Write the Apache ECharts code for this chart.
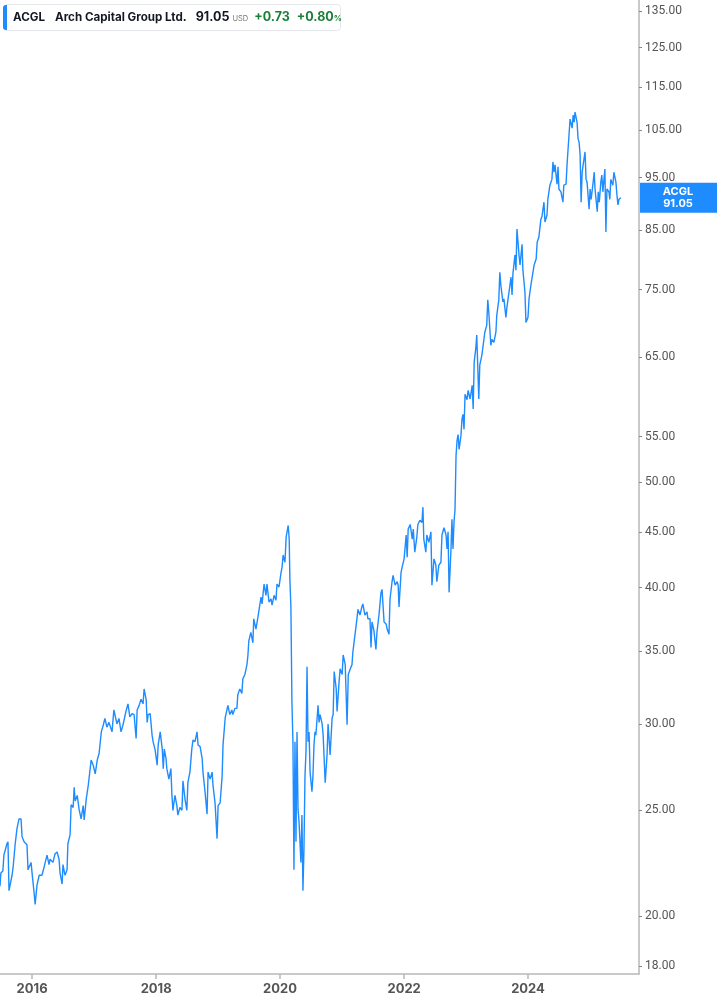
<!DOCTYPE html>
<html><head><meta charset="utf-8">
<script src="https://cdn.jsdelivr.net/npm/echarts@6/dist/echarts.min.js"></script>
<style>html,body{margin:0;padding:0;background:#fff}#c{width:717px;height:1005px}</style>
</head><body><div id="c"></div>
<script>
const dates = [
'2015-06-26','2015-07-01','2015-07-13','2015-07-19','2015-07-30','2015-08-06','2015-08-12','2015-08-18','2015-09-05','2015-09-11',
'2015-09-23','2015-10-04','2015-10-16','2015-10-28','2015-11-03','2015-11-15','2015-12-02','2015-12-08','2015-12-26',
'2016-01-01','2016-01-13','2016-01-19','2016-01-30','2016-02-12','2016-02-28','2016-03-11','2016-03-29','2016-04-10','2016-04-16',
'2016-05-03','2016-05-15','2016-05-27','2016-06-08','2016-06-14','2016-06-26','2016-07-01','2016-07-13','2016-07-25','2016-07-30',
'2016-08-12','2016-08-18','2016-08-30','2016-09-05','2016-09-11','2016-09-23','2016-10-04','2016-10-16','2016-10-28','2016-11-03',
'2016-11-15','2016-11-27','2016-12-14','2016-12-26',
'2017-01-07','2017-01-19','2017-01-30','2017-02-12','2017-02-24','2017-03-05','2017-03-17','2017-03-29','2017-04-16','2017-04-27',
'2017-05-15','2017-05-27','2017-06-08','2017-06-20','2017-07-07','2017-07-19','2017-07-30','2017-08-12','2017-08-24','2017-09-05',
'2017-09-11','2017-09-23','2017-10-04','2017-10-16','2017-10-22','2017-11-03','2017-11-09','2017-11-15','2017-11-27','2017-12-08',
'2017-12-14','2017-12-26',
'2018-01-07','2018-01-13','2018-01-25','2018-02-06','2018-02-12','2018-02-18','2018-02-28','2018-03-05','2018-03-17','2018-03-29',
'2018-04-04','2018-04-10','2018-04-22','2018-05-03','2018-05-09','2018-05-21','2018-06-02','2018-06-08','2018-06-20','2018-07-01',
'2018-07-07','2018-07-19','2018-07-30','2018-08-06','2018-08-18','2018-08-30','2018-09-05','2018-09-17','2018-09-29','2018-10-04',
'2018-10-16','2018-10-28','2018-11-03','2018-11-15','2018-11-27','2018-12-02','2018-12-14','2018-12-26',
'2019-01-01','2019-01-13','2019-01-25','2019-01-30','2019-02-12','2019-02-24','2019-02-28','2019-03-11','2019-03-23','2019-03-29',
'2019-04-10','2019-04-22','2019-04-27','2019-05-09','2019-05-21','2019-05-27','2019-06-08','2019-06-20','2019-06-26','2019-07-01',
'2019-07-13','2019-07-25','2019-07-30','2019-08-12','2019-08-24','2019-08-30','2019-09-11','2019-09-17','2019-09-29','2019-10-10',
'2019-10-16','2019-10-28','2019-11-09','2019-11-15','2019-11-27','2019-12-08','2019-12-14','2019-12-26',
'2020-01-07','2020-01-13','2020-01-19','2020-01-30','2020-02-06','2020-02-18','2020-02-24','2020-02-28','2020-03-05','2020-03-11',
'2020-03-17','2020-03-23','2020-03-29','2020-04-04','2020-04-10','2020-04-16','2020-04-22','2020-05-03','2020-05-09','2020-05-15',
'2020-05-21','2020-05-27','2020-06-02','2020-06-08','2020-06-14','2020-06-20','2020-06-26','2020-07-07','2020-07-13','2020-07-19',
'2020-07-25','2020-07-30','2020-08-12','2020-08-18','2020-08-24','2020-09-05','2020-09-11','2020-09-23','2020-10-04','2020-10-10',
'2020-10-22','2020-11-03','2020-11-09','2020-11-15','2020-11-27','2020-12-02','2020-12-14','2020-12-20',
'2021-01-01','2021-01-07','2021-01-19','2021-01-30','2021-02-06','2021-02-18','2021-02-28','2021-03-05','2021-03-17','2021-03-29',
'2021-04-04','2021-04-16','2021-04-27','2021-05-03','2021-05-15','2021-05-27','2021-06-02','2021-06-14','2021-06-20','2021-06-26',
'2021-07-07','2021-07-19','2021-07-25','2021-08-06','2021-08-18','2021-08-24','2021-09-05','2021-09-17','2021-09-23','2021-10-04',
'2021-10-10','2021-10-22','2021-10-28','2021-11-09','2021-11-21','2021-11-27','2021-12-02','2021-12-14','2021-12-20',
'2022-01-01','2022-01-13','2022-01-19','2022-01-25','2022-02-06','2022-02-18','2022-02-24','2022-03-05','2022-03-17','2022-03-23',
'2022-04-04','2022-04-16','2022-04-22','2022-04-27','2022-05-09','2022-05-15','2022-05-27','2022-06-08','2022-06-14','2022-06-26',
'2022-07-07','2022-07-13','2022-07-25','2022-08-06','2022-08-12','2022-08-24','2022-09-05','2022-09-11','2022-09-17','2022-09-23',
'2022-10-04','2022-10-10','2022-10-16','2022-10-22','2022-10-28','2022-11-03','2022-11-09','2022-11-15','2022-11-21','2022-12-02',
'2022-12-08','2022-12-14','2022-12-20','2022-12-26',
'2023-01-07','2023-01-13','2023-01-25','2023-02-06','2023-02-12','2023-02-18','2023-02-28','2023-03-05','2023-03-17','2023-03-23',
'2023-04-04','2023-04-10','2023-04-22','2023-05-03','2023-05-09','2023-05-15','2023-05-27','2023-06-02','2023-06-14','2023-06-26',
'2023-07-01','2023-07-13','2023-07-19','2023-07-25','2023-08-06','2023-08-12','2023-08-24','2023-08-30','2023-09-11','2023-09-23',
'2023-09-29','2023-10-04','2023-10-16','2023-10-22','2023-10-28','2023-11-09','2023-11-15','2023-11-27','2023-12-02','2023-12-14',
'2023-12-20',
'2024-01-01','2024-01-07','2024-01-19','2024-01-30','2024-02-06','2024-02-18','2024-02-24','2024-03-05','2024-03-17','2024-03-23',
'2024-04-04','2024-04-10','2024-04-22','2024-04-27','2024-05-09','2024-05-21','2024-05-27','2024-06-02','2024-06-08','2024-06-20',
'2024-06-26','2024-07-01','2024-07-13','2024-07-25','2024-07-30','2024-08-12','2024-08-18','2024-08-30','2024-09-05','2024-09-17',
'2024-09-23','2024-09-29','2024-10-04','2024-10-16','2024-10-22','2024-10-28','2024-11-03','2024-11-09','2024-11-15','2024-11-21',
'2024-12-02','2024-12-08','2024-12-14','2024-12-26',
'2025-01-01','2025-01-07','2025-01-19','2025-01-25','2025-01-30','2025-02-12','2025-02-18','2025-02-24','2025-03-05','2025-03-11',
'2025-03-17','2025-03-29','2025-04-04','2025-04-10','2025-04-22','2025-04-27','2025-05-03','2025-05-15','2025-05-21','2025-06-02',
'2025-06-08','2025-06-14','2025-06-20','2025-07-01'
];
const prices = [
21.3,21.9,22.0,22.75,22.8,23.3,23.4,21.1,21.8,22.15,
23.25,24.05,24.55,24.55,23.65,23.4,23.25,22.05,22.4,
21.9,21.0,20.5,21.35,21.8,21.8,22.15,22.75,22.3,22.55,
22.4,22.8,22.9,22.55,21.9,21.4,22.3,21.8,22.05,23.3,
23.75,25.3,25.15,26.25,25.5,25.8,25.05,24.55,25.25,24.5,
25.6,26.35,27.8,27.5,
27.0,27.8,28.2,29.5,29.95,30.35,29.8,30.1,29.5,30.9,
30.0,30.35,29.5,29.95,30.8,31.3,30.45,30.65,30.6,29.1,
30.9,31.2,31.6,31.3,32.3,31.6,30.1,30.6,30.65,29.3,
28.9,28.4,
27.5,28.7,29.5,28.45,27.3,28.45,27.9,27.3,26.7,27.3,
25.8,25.0,25.8,25.25,24.75,25.15,25.0,26.6,25.6,25.0,
26.5,27.1,28.45,29.0,28.9,29.5,28.7,28.6,27.9,27.1,
26.0,24.8,27.1,26.7,27.1,26.35,25.4,23.55,
25.25,25.4,26.9,28.7,30.4,31.0,31.2,30.6,30.9,30.6,
31.0,31.0,31.9,32.3,32.0,33.0,33.3,34.0,34.7,35.75,
36.4,35.6,37.45,36.65,37.6,38.15,39.2,38.65,40.3,39.35,
40.3,38.8,39.05,38.55,39.35,38.95,40.3,40.05,
41.3,41.75,42.85,42.2,44.5,45.6,44.3,40.7,38.4,31.4,
28.9,22.05,28.9,23.4,29.5,25.05,24.4,22.4,24.75,21.1,
23.05,26.9,28.3,33.85,28.9,29.5,27.1,26.0,26.9,28.7,
29.5,29.3,31.2,30.1,30.6,30.0,29.3,26.5,28.1,30.0,
28.1,30.4,30.6,33.5,32.3,30.8,32.8,33.7,
33.3,34.7,34.0,29.95,33.3,33.7,34.0,34.9,36.15,37.45,
38.2,37.75,38.4,38.65,37.75,38.0,37.45,37.45,35.25,37.2,
36.55,35.1,36.4,37.75,39.6,39.85,37.2,37.05,36.65,36.25,
39.05,40.5,41.05,40.2,40.5,40.2,38.4,41.3,41.75,
42.5,44.7,42.65,45.25,45.7,44.3,45.25,43.1,44.5,45.7,
46.1,45.9,47.4,44.3,43.1,44.7,44.0,45.0,40.2,42.5,
41.95,40.5,41.95,42.2,44.7,45.4,44.7,43.4,45.0,39.6,
43.3,46.2,43.4,45.9,47.2,52.85,54.55,55.25,53.55,55.15,
57.05,57.65,55.85,60.15,
59.45,60.65,59.55,61.3,58.3,64.4,66.4,68.15,59.55,64.0,
65.3,65.45,68.6,69.6,73.4,71.5,66.7,67.55,67.1,68.6,
71.05,73.4,77.8,75.7,73.1,73.55,70.75,72.3,74.6,77.0,
74.15,77.5,80.7,78.15,85.25,80.7,79.0,82.55,78.15,74.6,
70.0,
70.75,73.55,75.9,76.2,79.0,80.0,82.9,83.8,87.05,87.45,
90.2,86.5,87.8,90.75,93.5,94.65,98.2,96.1,97.6,93.7,
97.2,92.75,92.2,90.2,93.5,93.7,97.6,104.15,107.5,105.45,
108.4,106.8,109.1,106.8,103.1,102.4,99.7,90.2,96.1,97.6,
100.3,94.7,94.1,88.9,
92.75,90.75,94.1,96.1,92.75,88.4,92.2,90.2,94.1,95.5,
92.2,96.75,84.7,92.75,92.2,90.75,94.65,93.5,96.1,94.1,
91.6,89.7,90.75,91.05
];
const yTicks = [18,20,25,30,35,40,45,50,55,65,75,85,95,105,115,125,135];
const xTicks = ['2016-01-01','2018-01-01','2020-01-01','2022-01-01','2024-01-01'];
const xRange = ['2015-06-26','2025-10-16'];
const yRange = [17.70, 138.2];
const quote = {symbol:'ACGL', name:'Arch Capital Group Ltd.', last:'91.05', currency:'USD', change:'+0.73', pct:'+0.80'};

const BLUE = '#1e8cff', GREEN = '#1a7f37', AXIS = '#b8b8b8', LBL = '#555';
const chart = echarts.init(document.getElementById('c'), null, {renderer:'canvas'});
const ts = s => new Date(s + 'T00:00:00Z').getTime();

chart.setOption({
  animation:false,
  grid:{left:0, right:78, top:0, bottom:31, containLabel:false},
  xAxis:{
    type:'value', min:ts(xRange[0]), max:ts(xRange[1]), scale:true,
    axisLine:{show:true, lineStyle:{color:AXIS, width:1.5}},
    axisTick:{show:true, length:5, lineStyle:{color:AXIS, width:1.5}, customValues:xTicks.map(ts)},
    axisLabel:{customValues:xTicks.map(ts), color:LBL, fontFamily:'Inter', fontWeight:'bold', fontSize:13, margin:9,
      formatter:v=>String(new Date(v).getUTCFullYear())},
    splitLine:{show:false}
  },
  yAxis:{
    type:'log', logBase:10, position:'right', min:yRange[0], max:yRange[1],
    axisLine:{show:true, lineStyle:{color:AXIS, width:1.5}},
    axisTick:{show:true, length:3, lineStyle:{color:'#888', width:1}, customValues:yTicks},
    axisLabel:{customValues:yTicks, color:LBL, fontFamily:'Roboto', fontSize:12, margin:6,
      formatter:v=>Number(v).toFixed(2)},
    splitLine:{show:false}
  },
  series:[{
    type:'line', symbol:'none', data:dates.map((d,i)=>[ts(d), prices[i]]),
    lineStyle:{color:BLUE, width:1.4}, itemStyle:{color:BLUE}
  }]
});

const lastY = chart.convertToPixel({yAxisIndex:0}, prices[prices.length-1]);
chart.setOption({
  graphic:[
    {type:'rect', shape:{x:3.5, y:4.5, width:337, height:26, r:3}, style:{fill:'#fff', stroke:'#e6e7ea', lineWidth:1}},
    {type:'rect', shape:{x:3, y:5, width:4, height:25, r:[3,0,0,3]}, style:{fill:BLUE}},
    {type:'text', x:13, y:17.5, style:{
      text:'{s|'+quote.symbol+'}{n|'+quote.name+'}{p|'+quote.last+'}{u|'+quote.currency+'}{c|'+quote.change+'}{c2|'+quote.pct+'}{pc|%}',
      verticalAlign:'middle', align:'left',
      rich:{
        s:{font:'bold 11.6px Inter', fill:'#131722'},
        n:{font:'bold 11.6px Inter', fill:'#131722', padding:[0,0,0,10]},
        p:{font:'bold 12.5px Inter', fill:'#131722', padding:[0,0,0,9]},
        u:{font:'normal 7.5px Inter', fill:'#777', padding:[3,0,0,3]},
        c:{font:'bold 12.5px Inter', fill:GREEN, padding:[0,0,0,6]},
        c2:{font:'bold 12.5px Inter', fill:GREEN, padding:[0,0,0,7]},
        pc:{font:'bold 8px Inter', fill:GREEN, padding:[3,0,0,0]}
      }}},
    {type:'rect', shape:{x:640, y:lastY-15, width:77, height:30}, style:{fill:BLUE}},
    {type:'text', x:678, y:lastY, style:{text:quote.symbol+'\n'+quote.last, fill:'#fff', font:'bold 11px Inter',
      align:'center', verticalAlign:'middle', lineHeight:12}}
  ]
});
</script></body></html>
